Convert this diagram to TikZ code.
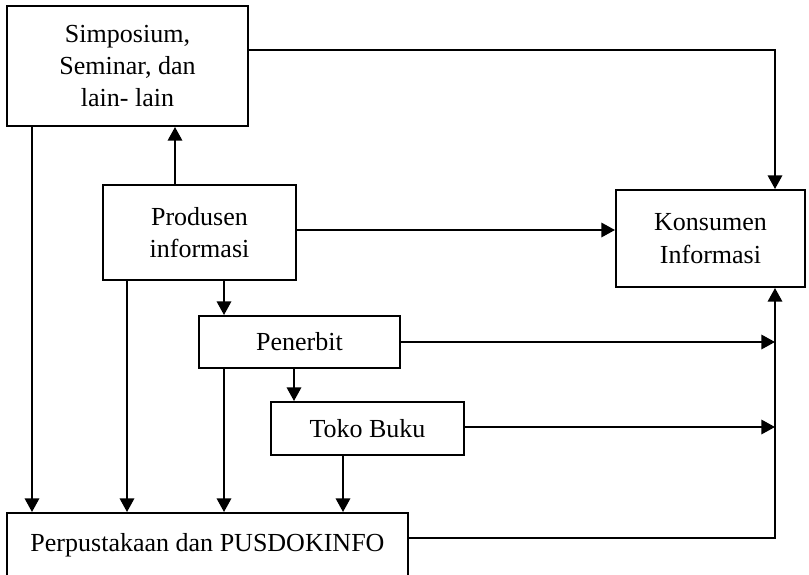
\documentclass[tikz,border=0pt]{standalone}
\usepackage{fontspec}
\setmainfont{Liberation Serif}
\usetikzlibrary{arrows.meta,calc}

\tikzset{
  kotak/.style={draw=black, line width=1.4pt, align=center, inner sep=0pt,
    font=\fontsize{18.5}{23}\selectfont},
  panah/.style={draw=black, line width=1.4pt, -{Triangle[length=0.34cm,width=0.36cm]}},
  garis/.style={draw=black, line width=1.4pt}
}

\begin{document}
\begin{tikzpicture}[x=0.025cm, y=-0.025cm]

\useasboundingbox (0,0) rectangle (809,574);

% kolom dan baris
\coordinate (colA) at (32,0);
\coordinate (colB) at (127,0);
\coordinate (colC) at (224,0);
\coordinate (colD) at (343,0);
\coordinate (colE) at (175,0);
\coordinate (colF) at (294,0);
\coordinate (colR) at (775,0);
\coordinate (rowA) at (0,50);
\coordinate (rowB) at (0,230);
\coordinate (rowC) at (0,427);
\coordinate (rowD) at (0,538);

% Simposium
\path
(127.5,66) node [kotak, minimum width=6.025cm, minimum height=3cm] (simp)
  {Simposium,\\Seminar, dan\\lain- lain};

% Produsen informasi
\path
(199.5,232.5) node [kotak, minimum width=4.825cm, minimum height=2.375cm] (prod)
  {Produsen\\informasi};

% Konsumen Informasi
\path
(710.5,238.5) node [kotak, minimum width=4.725cm, minimum height=2.425cm] (kons)
  {Konsumen\\Informasi};

% Penerbit
\path
(299.5,342) node [kotak, minimum width=5.025cm, minimum height=1.3cm] (pen)
  {Penerbit};

% Toko Buku
\path
(367.5,428.5) node [kotak, minimum width=4.825cm, minimum height=1.325cm] (toko)
  {Toko Buku};

% Perpustakaan
\path
(207.5,545) node [kotak, minimum width=10.025cm, minimum height=1.6cm] (perp)
  {Perpustakaan dan PUSDOKINFO};


% panah ke bawah
\draw[panah] (prod.north -| colE) -- (simp.south -| colE);
\draw[panah] (simp.south -| colA) -- (perp.north -| colA);
\draw[panah] (prod.south -| colB) -- (perp.north -| colB);
\draw[panah] (prod.south -| colC) -- (pen.north -| colC);
\draw[panah] (pen.south -| colC) -- (perp.north -| colC);
\draw[panah] (pen.south -| colF) -- (toko.north -| colF);
\draw[panah] (toko.south -| colD) -- (perp.north -| colD);

% panah ke konsumen
\draw[panah] (simp.east |- rowA) -| (kons.north -| colR);
\draw[panah] (prod.east |- rowB) -- (kons.west |- rowB);
\draw[panah] (pen.east) -- (pen.east -| colR);
\draw[panah] (toko.east |- rowC) -- (colR |- rowC);
\draw[panah] (perp.east |- rowD) -| (kons.south -| colR);

\end{tikzpicture}
\end{document}
